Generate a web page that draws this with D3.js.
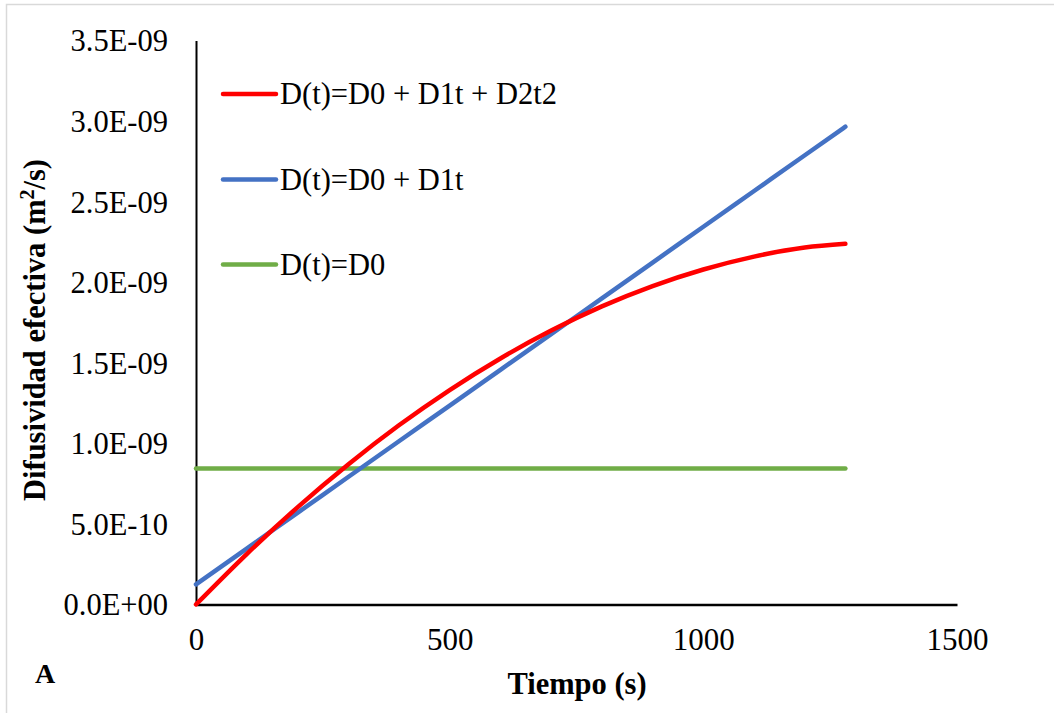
<!DOCTYPE html>
<html>
<head>
<meta charset="utf-8">
<script src="https://cdn.jsdelivr.net/npm/d3@7/dist/d3.min.js"></script>
<style>
  html, body { margin: 0; padding: 0; background: #fff; }
  svg { display: block; }
  text { font-family: "Liberation Serif", "Times New Roman", serif; fill: #000; }
</style>
</head>
<body>
<svg id="chart" width="1054" height="713"></svg>
<script>
// Time points (s)
const tiempo = [0, 100, 200, 300, 400, 500, 600, 700, 800, 900, 1000, 1100, 1200, 1280];

// Effective diffusivity (m²/s) for each model
const dQuadratic = [0, 0.313e-9, 0.603e-9, 0.869e-9, 1.112e-9, 1.331e-9, 1.527e-9, 1.700e-9,
                    1.850e-9, 1.976e-9, 2.079e-9, 2.159e-9, 2.215e-9, 2.238e-9];
const dLinear = [0.125e-9, 0.347e-9, 0.569e-9, 0.791e-9, 1.013e-9, 1.234e-9, 1.456e-9, 1.678e-9,
                 1.900e-9, 2.122e-9, 2.344e-9, 2.566e-9, 2.788e-9, 2.965e-9];
const dConstant = [0.844e-9, 0.844e-9, 0.844e-9, 0.844e-9, 0.844e-9, 0.844e-9, 0.844e-9, 0.844e-9,
                   0.844e-9, 0.844e-9, 0.844e-9, 0.844e-9, 0.844e-9, 0.844e-9];

const seriesNames = ["D(t)=D0 + D1t + D2t2", "D(t)=D0 + D1t", "D(t)=D0"];
const seriesColors = ["#ff0000", "#4472c4", "#70ad47"];
const seriesValues = [dQuadratic, dLinear, dConstant];

const xTicks = [0, 500, 1000, 1500];
const yTicks = [0, 0.5e-9, 1.0e-9, 1.5e-9, 2.0e-9, 2.5e-9, 3.0e-9, 3.5e-9];

const svg = d3.select("#chart");

// outer frame
svg.append("rect")
  .attr("x", 6.5).attr("y", 4.5)
  .attr("width", 1060).attr("height", 720)
  .attr("fill", "none").attr("stroke", "#d9d9d9").attr("stroke-width", 1.5);

const x = d3.scaleLinear().domain([0, 1500]).range([196, 957]);
const y = d3.scaleLinear().domain([0, 3.5e-9]).range([604.5, 40.5]);

const fmtY = v => {
  const s = v.toExponential(1).toUpperCase(); // e.g. 3.5E-9
  const m = s.match(/^(.*)E([+-])(\d+)$/);
  return m[1] + "E" + m[2] + m[3].padStart(2, "0");
};

// y axis
const yAxis = svg.append("g").attr("transform", "translate(196,0)")
  .call(d3.axisLeft(y).tickValues(yTicks).tickSize(0).tickPadding(28).tickFormat(fmtY));
yAxis.select(".domain").attr("stroke", "#000").attr("stroke-width", 2);
yAxis.selectAll("text")
  .attr("font-size", 30.5)
  .attr("font-family", "Liberation Serif")
  .attr("dy", "0.34em");

// x axis
const xAxis = svg.append("g").attr("transform", "translate(0,604.5)")
  .call(d3.axisBottom(x).tickValues(xTicks).tickSize(0).tickPadding(23).tickFormat(d3.format("d")));
xAxis.select(".domain").attr("stroke", "#000").attr("stroke-width", 2.5);
xAxis.selectAll("text")
  .attr("font-size", 31)
  .attr("font-family", "Liberation Serif");

// series lines
const line = d3.line()
  .x(d => x(d[0]))
  .y(d => y(d[1]))
  .curve(d3.curveMonotoneX);

// draw constant first, then linear, then quadratic on top
[2, 1, 0].forEach(i => {
  const pts = tiempo.map((t, j) => [t, seriesValues[i][j]]);
  svg.append("path")
    .datum(pts)
    .attr("d", line)
    .attr("fill", "none")
    .attr("stroke", seriesColors[i])
    .attr("stroke-width", 4.5)
    .attr("stroke-linecap", "round")
    .attr("stroke-linejoin", "round");
});

// legend
const legendY = [94, 179.5, 264.5];
seriesNames.forEach((name, i) => {
  svg.append("line")
    .attr("x1", 223).attr("x2", 276)
    .attr("y1", legendY[i]).attr("y2", legendY[i])
    .attr("stroke", seriesColors[i])
    .attr("stroke-width", 4.5)
    .attr("stroke-linecap", "round");
  svg.append("text")
    .attr("x", 280).attr("y", legendY[i])
    .attr("dy", "0.34em")
    .attr("font-size", 30.5)
    .text(name);
});

// axis titles
svg.append("text")
  .attr("x", 577).attr("y", 694)
  .attr("text-anchor", "middle")
  .attr("font-size", 30.5)
  .attr("font-weight", "bold")
  .text("Tiempo (s)");

const yTitle = svg.append("text")
  .attr("transform", "translate(45,330) rotate(-90)")
  .attr("text-anchor", "middle")
  .attr("font-size", 30.5)
  .attr("font-weight", "bold");
yTitle.append("tspan").text("Difusividad efectiva (m");
yTitle.append("tspan").attr("font-size", 20).attr("dy", -11).text("2");
yTitle.append("tspan").attr("dy", 11).text("/s)");

// panel letter
svg.append("text")
  .attr("x", 35).attr("y", 683)
  .attr("font-size", 28)
  .attr("font-weight", "bold")
  .text("A");
</script>
</body>
</html>
